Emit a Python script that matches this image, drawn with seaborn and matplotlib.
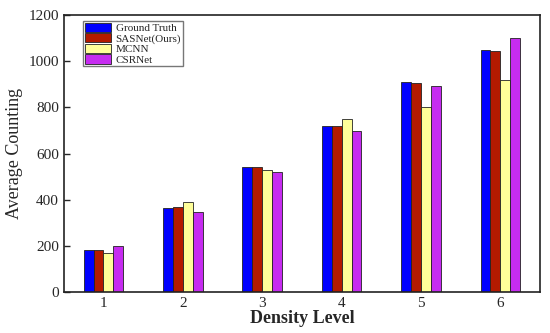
import matplotlib
matplotlib.use("Agg")
import matplotlib.pyplot as plt
import pandas as pd
import seaborn as sns

# ── Data ──────────────────────────────────────────────────────────────────────
levels = ["1", "2", "3", "4", "5", "6"]
ground_truth = [180, 362, 540, 720, 910, 1050]
sasnet = [182, 368, 543, 718, 905, 1042]
mcnn = [170, 388, 530, 748, 803, 920]
csrnet = [198, 345, 520, 698, 893, 1100]

methods = ["Ground Truth", "SASNet(Ours)", "MCNN", "CSRNet"]
colors = ["#0000ff", "#b31a00", "#ffff99", "#c62cf0"]

df = pd.DataFrame({
    "level": levels * 4,
    "method": [m for m in methods for _ in levels],
    "count": ground_truth + sasnet + mcnn + csrnet,
})

# ── Style ─────────────────────────────────────────────────────────────────────
sns.set_theme(style="ticks")
plt.rcParams["font.family"] = ["Liberation Serif", "DejaVu Serif"]

fig = plt.figure(figsize=(5.5, 3.33), dpi=100)
ax = fig.add_axes([0.116, 0.123, 0.866, 0.832])

sns.barplot(
    data=df, x="level", y="count", hue="method",
    palette=colors, width=0.5, edgecolor="#222222", linewidth=0.6,
    saturation=1, ax=ax,
)

ax.set_ylim(0, 1200)
ax.set_xlim(-0.5, 5.5)
ax.set_yticks(range(0, 1201, 200))
ax.tick_params(axis="both", direction="in", labelsize=11, length=4, width=1)
ax.tick_params(axis="x", length=0)
ax.set_xlabel("Density Level", fontsize=13, fontweight="bold", labelpad=0)
ax.set_ylabel("Average Counting", fontsize=13, labelpad=4)
for s in ax.spines.values():
    s.set_linewidth(1.2)
    s.set_color("#222222")

leg = ax.legend(
    loc="upper left", bbox_to_anchor=(0.04, 0.978), fontsize=8,
    frameon=True, fancybox=False, edgecolor="#555555",
    handlelength=2.4, handleheight=0.9, handletextpad=0.4,
    labelspacing=0.0, borderpad=0.15, borderaxespad=0,
)
leg.get_frame().set_linewidth(1)

fig.savefig("out.png", dpi=100)
